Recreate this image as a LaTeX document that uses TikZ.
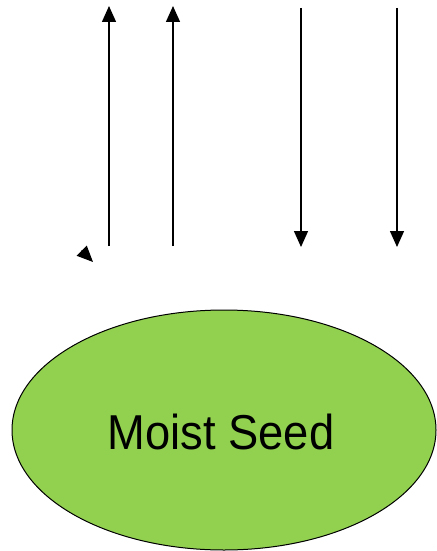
\documentclass[tikz,border=0pt]{standalone}
\usepackage{fontspec}
\setmainfont{Liberation Sans}
\usetikzlibrary{arrows.meta,shapes.geometric}
\definecolor{seedgreen}{HTML}{92D050}
\tikzset{
  arr/.style={line width=1.4pt,-{Triangle[width=14pt,length=16pt]}},
  seed/.style={ellipse,draw=black,line width=1pt,fill=seedgreen,minimum width=424pt,minimum height=240pt,inner sep=0pt},
  lbl/.style={font=\fontsize{49pt}{55pt}\selectfont,text=black}
}
\begin{document}
\begin{tikzpicture}[x=1pt,y=-1pt]
\useasboundingbox (0,0) rectangle (436,551);
\node[seed] (seed) at (224,430) {};
\node[lbl] (txt) at (221,432) {\scalebox{0.925}[1]{Moist Seed}};
\coordinate (u1s) at (109,246); \coordinate (u1e) at (109,6);
\coordinate (u2s) at (173,246); \coordinate (u2e) at (173,6);
\coordinate (d1s) at (301,8); \coordinate (d1e) at (301,247);
\coordinate (d2s) at (397,8); \coordinate (d2e) at (397,247);
\coordinate (hs) at (81.5,250.5); \coordinate (he) at (93,262);
\draw[arr] (u1s) -- (u1e);
\draw[arr] (u2s) -- (u2e);
\draw[arr] (d1s) -- (d1e);
\draw[arr] (d2s) -- (d2e);
\draw[arr] (hs) -- (he);
\end{tikzpicture}
\end{document}
